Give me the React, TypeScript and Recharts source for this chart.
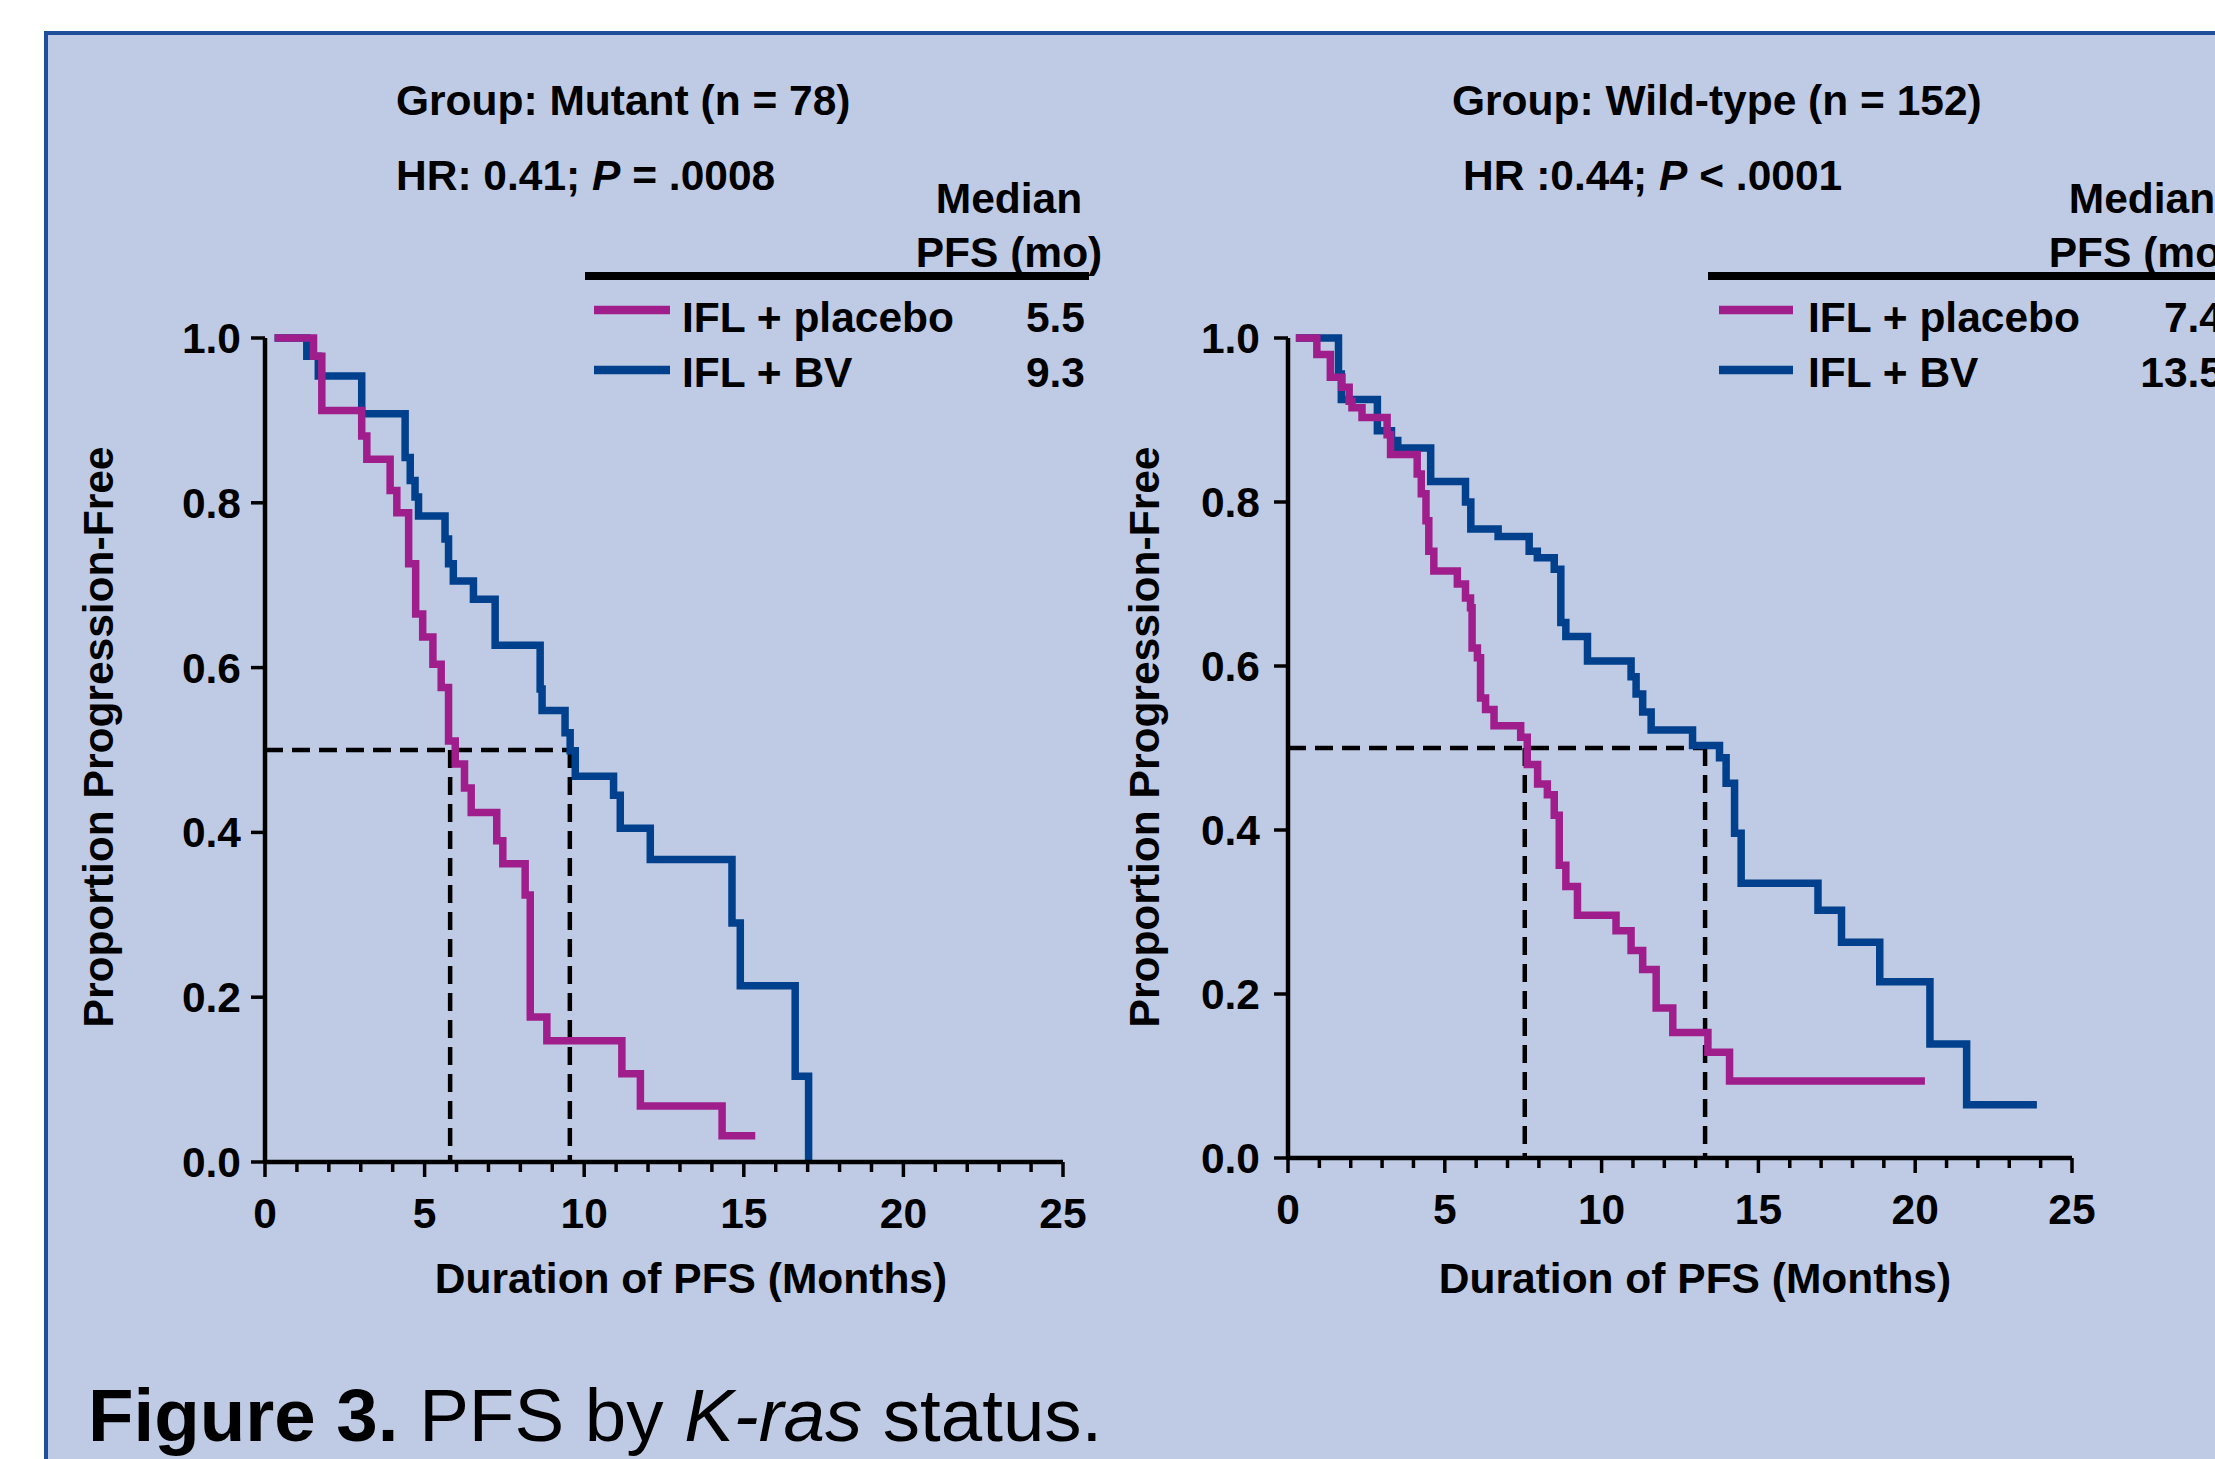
import React from 'react';
import { LineChart, Line, XAxis, YAxis, ReferenceLine } from 'recharts';

// tick values shared by both panels
const MONTH_TICKS = [0, 1, 2, 3, 4, 5, 6, 7, 8, 9, 10, 11, 12, 13, 14, 15, 16, 17, 18, 19, 20, 21, 22, 23, 24, 25];
const PROPORTION_TICKS = [0, 0.2, 0.4, 0.6, 0.8, 1.0];

// Kaplan-Meier steps: t = months, s = proportion after the drop at t
const mutantPlacebo = [
  { t: 0.3, s: 1.0 }, { t: 1.52, s: 0.978 }, { t: 1.78, s: 0.912 }, { t: 3.03, s: 0.881 },
  { t: 3.19, s: 0.853 }, { t: 3.92, s: 0.815 }, { t: 4.13, s: 0.788 }, { t: 4.5, s: 0.726 },
  { t: 4.72, s: 0.665 }, { t: 4.94, s: 0.637 }, { t: 5.26, s: 0.604 }, { t: 5.52, s: 0.576 },
  { t: 5.75, s: 0.511 }, { t: 5.96, s: 0.483 }, { t: 6.25, s: 0.454 }, { t: 6.46, s: 0.424 },
  { t: 7.26, s: 0.39 }, { t: 7.45, s: 0.362 }, { t: 8.15, s: 0.324 }, { t: 8.31, s: 0.176 },
  { t: 8.83, s: 0.147 }, { t: 11.18, s: 0.107 }, { t: 11.76, s: 0.068 }, { t: 14.32, s: 0.032 },
  { t: 15.36, s: 0.032 },
];

const mutantBV = [
  { t: 0.3, s: 1.0 }, { t: 1.31, s: 0.978 }, { t: 1.67, s: 0.954 }, { t: 3.03, s: 0.908 },
  { t: 4.39, s: 0.855 }, { t: 4.55, s: 0.827 }, { t: 4.7, s: 0.807 }, { t: 4.81, s: 0.784 },
  { t: 5.64, s: 0.756 }, { t: 5.75, s: 0.726 }, { t: 5.9, s: 0.705 }, { t: 6.53, s: 0.683 },
  { t: 7.21, s: 0.627 }, { t: 8.62, s: 0.574 }, { t: 8.68, s: 0.548 }, { t: 9.4, s: 0.521 },
  { t: 9.56, s: 0.499 }, { t: 9.72, s: 0.468 }, { t: 10.92, s: 0.445 }, { t: 11.13, s: 0.405 },
  { t: 12.07, s: 0.367 }, { t: 14.63, s: 0.29 }, { t: 14.89, s: 0.214 }, { t: 16.61, s: 0.104 },
  { t: 17.03, s: 0.0 },
];

const wildPlacebo = [
  { t: 0.25, s: 1.0 }, { t: 0.92, s: 0.98 }, { t: 1.35, s: 0.952 }, { t: 1.72, s: 0.94 },
  { t: 1.95, s: 0.923 }, { t: 2.04, s: 0.915 }, { t: 2.36, s: 0.903 }, { t: 3.16, s: 0.882 },
  { t: 3.27, s: 0.858 }, { t: 4.12, s: 0.834 }, { t: 4.25, s: 0.81 }, { t: 4.4, s: 0.777 },
  { t: 4.49, s: 0.74 }, { t: 4.65, s: 0.716 }, { t: 5.4, s: 0.7 }, { t: 5.66, s: 0.683 },
  { t: 5.82, s: 0.671 }, { t: 5.87, s: 0.622 }, { t: 6.04, s: 0.61 }, { t: 6.14, s: 0.561 },
  { t: 6.3, s: 0.547 }, { t: 6.57, s: 0.527 }, { t: 7.42, s: 0.513 }, { t: 7.63, s: 0.48 },
  { t: 7.96, s: 0.456 }, { t: 8.27, s: 0.443 }, { t: 8.49, s: 0.418 }, { t: 8.65, s: 0.357 },
  { t: 8.86, s: 0.331 }, { t: 9.23, s: 0.296 }, { t: 10.46, s: 0.277 }, { t: 10.94, s: 0.253 },
  { t: 11.31, s: 0.23 }, { t: 11.74, s: 0.183 }, { t: 12.27, s: 0.153 }, { t: 13.39, s: 0.129 },
  { t: 14.08, s: 0.094 }, { t: 20.31, s: 0.094 },
];

const wildBV = [
  { t: 0.25, s: 1.0 }, { t: 1.61, s: 0.956 }, { t: 1.7, s: 0.925 }, { t: 2.85, s: 0.887 },
  { t: 3.3, s: 0.875 }, { t: 3.5, s: 0.866 }, { t: 4.55, s: 0.825 }, { t: 5.66, s: 0.8 },
  { t: 5.83, s: 0.767 }, { t: 6.7, s: 0.758 }, { t: 7.69, s: 0.74 }, { t: 7.95, s: 0.732 },
  { t: 8.49, s: 0.718 }, { t: 8.7, s: 0.653 }, { t: 8.86, s: 0.636 }, { t: 9.55, s: 0.606 },
  { t: 10.94, s: 0.587 }, { t: 11.1, s: 0.566 }, { t: 11.31, s: 0.544 }, { t: 11.58, s: 0.522 },
  { t: 12.9, s: 0.503 }, { t: 13.76, s: 0.488 }, { t: 13.97, s: 0.457 }, { t: 14.24, s: 0.396 },
  { t: 14.45, s: 0.335 }, { t: 16.9, s: 0.302 }, { t: 17.65, s: 0.263 }, { t: 18.87, s: 0.215 },
  { t: 20.47, s: 0.139 }, { t: 21.64, s: 0.065 }, { t: 23.88, s: 0.065 },
];

// where the dashed median guides drop to the x axis
const mutantMedianDrops = [5.8, 9.55];
const wildMedianDrops = [7.55, 13.3];

const MAGENTA = '#A01E8C';
const BLUE = '#00408C';
const PANEL_BG = '#BFCBE5';
const FONT = '"Liberation Sans", Arial, Helvetica, sans-serif';

const textStyle: React.CSSProperties = { fontFamily: FONT, fontWeight: 700, fontSize: 42.5, fill: '#000' };

const MonthTick = ({ x, y, payload }: any) => {
  const major = payload.value % 5 === 0;
  return (
    <g>
      <line x1={x} x2={x} y1={y} y2={y + (major ? 15 : 10)} stroke="#000" strokeWidth={3.5} />
      {major && (
        <text x={x} y={y + 66} textAnchor="middle" style={textStyle}>
          {payload.value}
        </text>
      )}
    </g>
  );
};

const makeProportionTick = (gap: number) => ({ x, y, payload }: any) => (
  <g>
    <line x1={x} x2={x - 14} y1={y} y2={y} stroke="#000" strokeWidth={3.5} />
    <text x={x - gap} y={y + 15} textAnchor="end" style={textStyle}>
      {Number(payload.value).toFixed(1)}
    </text>
  </g>
);

function KMChart({ left, width, plotLeft, plotRight, plotTop, plotBottom, placebo, bv, drops, labelGap }: any) {
  const median = Math.max(...drops);
  return (
    <div style={{ position: 'absolute', left, top: 0 }}>
      <LineChart
        width={width}
        height={1459}
        margin={{ top: plotTop, right: width - (plotRight - left), bottom: 0, left: 0 }}
      >
        <XAxis
          dataKey="t"
          type="number"
          domain={[0, 25]}
          ticks={MONTH_TICKS}
          interval={0}
          height={1459 - plotBottom}
          tickSize={0}
          tickMargin={0}
          tickLine={false}
          axisLine={{ stroke: '#000', strokeWidth: 4.5 }}
          tick={<MonthTick />}
        />
        <YAxis
          type="number"
          domain={[0, 1]}
          ticks={PROPORTION_TICKS}
          interval={0}
          width={plotLeft - left}
          tickSize={0}
          tickMargin={0}
          tickLine={false}
          axisLine={{ stroke: '#000', strokeWidth: 4.5 }}
          tick={makeProportionTick(labelGap)}
        />
        <ReferenceLine
          segment={[{ x: 0, y: 0.5 }, { x: median, y: 0.5 }]}
          stroke="#000"
          strokeWidth={4.5}
          strokeDasharray="18 9"
        />
        {drops.map((d: number) => (
          <ReferenceLine
            key={d}
            segment={[{ x: d, y: 0.5 }, { x: d, y: 0 }]}
            stroke="#000"
            strokeWidth={4.5}
            strokeDasharray="18 9"
          />
        ))}
        <Line
          data={bv}
          dataKey="s"
          type="stepAfter"
          stroke={BLUE}
          strokeWidth={7.5}
          dot={false}
          activeDot={false}
          isAnimationActive={false}
        />
        <Line
          data={placebo}
          dataKey="s"
          type="stepAfter"
          stroke={MAGENTA}
          strokeWidth={7.5}
          dot={false}
          activeDot={false}
          isAnimationActive={false}
        />
      </LineChart>
    </div>
  );
}

function Legend({ ruleX, sampleX, textX, numX, centerX, placeboMedian, bvMedian }: any) {
  return (
    <g>
      <text x={centerX} y={213} textAnchor="middle" style={textStyle}>Median</text>
      <text x={centerX} y={267} textAnchor="middle" style={textStyle}>PFS (mo)</text>
      <line x1={ruleX[0]} x2={ruleX[1]} y1={276} y2={276} stroke="#000" strokeWidth={8} />
      <line x1={sampleX[0]} x2={sampleX[1]} y1={310} y2={310} stroke={MAGENTA} strokeWidth={8.5} />
      <text x={textX} y={332} style={textStyle}>IFL + placebo</text>
      <text x={numX} y={332} textAnchor="end" style={textStyle}>{placeboMedian}</text>
      <line x1={sampleX[0]} x2={sampleX[1]} y1={370} y2={370} stroke={BLUE} strokeWidth={8.5} />
      <text x={textX} y={387} style={textStyle}>IFL + BV</text>
      <text x={numX} y={387} textAnchor="end" style={textStyle}>{bvMedian}</text>
    </g>
  );
}

export default function App() {
  return (
    <div style={{ position: 'fixed', left: 0, top: 0, width: 2215, height: 1459, overflow: 'hidden', background: '#fff' }}>
      <div
        style={{
          position: 'absolute',
          left: 44,
          top: 31,
          width: 2400,
          height: 1600,
          background: PANEL_BG,
          border: '4px solid #1F4F9A',
          boxSizing: 'border-box',
        }}
      />
      <KMChart
        left={0}
        width={1175}
        plotLeft={265}
        plotRight={1063}
        plotTop={338}
        plotBottom={1162}
        placebo={mutantPlacebo}
        bv={mutantBV}
        drops={mutantMedianDrops}
        labelGap={24}
      />
      <KMChart
        left={1175}
        width={1040}
        plotLeft={1288}
        plotRight={2072}
        plotTop={338}
        plotBottom={1158}
        placebo={wildPlacebo}
        bv={wildBV}
        drops={wildMedianDrops}
        labelGap={28}
      />
      <svg width={2400} height={1459} style={{ position: 'absolute', left: 0, top: 0, pointerEvents: 'none' }}>
        <text x={396} y={115} style={textStyle}>Group: Mutant (n = 78)</text>
        <text x={396} y={190} style={textStyle}>
          HR: 0.41; <tspan fontStyle="italic">P</tspan> = .0008
        </text>
        <Legend
          ruleX={[585, 1089]}
          sampleX={[594, 670]}
          textX={682}
          numX={1085}
          centerX={1009}
          placeboMedian="5.5"
          bvMedian="9.3"
        />
        <text transform="translate(113,737) rotate(-90)" textAnchor="middle" style={textStyle}>
          Proportion Progression-Free
        </text>
        <text x={691} y={1293} textAnchor="middle" style={textStyle}>Duration of PFS (Months)</text>

        <text x={1452} y={115} style={textStyle}>Group: Wild-type (n = 152)</text>
        <text x={1463} y={190} style={textStyle}>
          HR :0.44; <tspan fontStyle="italic">P</tspan> &lt; .0001
        </text>
        <Legend
          ruleX={[1708, 2400]}
          sampleX={[1719, 1793]}
          textX={1808}
          numX={2223}
          centerX={2142}
          placeboMedian="7.4"
          bvMedian="13.5"
        />
        <text transform="translate(1159,737) rotate(-90)" textAnchor="middle" style={textStyle}>
          Proportion Progression-Free
        </text>
        <text x={1695} y={1293} textAnchor="middle" style={textStyle}>Duration of PFS (Months)</text>

        <text x={88} y={1441} style={{ fontFamily: FONT, fontSize: 74.5, fill: '#000' }}>
          <tspan fontWeight={700}>Figure 3.</tspan> PFS by <tspan fontStyle="italic">K-ras</tspan> status.
        </text>
      </svg>
    </div>
  );
}
